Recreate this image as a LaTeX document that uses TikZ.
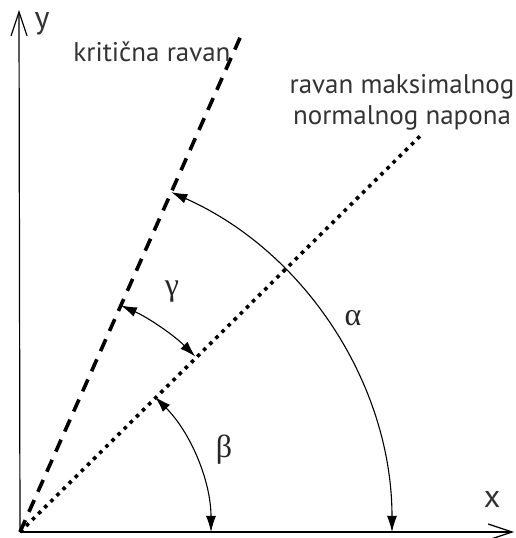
\documentclass[tikz,border=0pt]{standalone}
\usepackage{fontspec}
\setmainfont{PT Sans}
\newfontfamily\grk{Liberation Serif}
\usetikzlibrary{arrows.meta,calc}
\begin{document}
\begin{tikzpicture}[x=1pt,y=1pt,
  axis/.style={line width=1.2pt,-{Straight Barb[length=24pt,width=16pt,line width=1.2pt]}},
  crit/.style={line width=3.6pt,dash pattern=on 13pt off 9pt},
  maxn/.style={line width=3.6pt,dash pattern=on 3.6pt off 5pt},
  angarr/.style={line width=1.1pt,{Latex[length=16pt,width=10pt]}-{Latex[length=16pt,width=10pt]}},
  lbl/.style={font=\fontsize{27}{31}\selectfont,text=black!80,inner sep=0pt},
  greek/.style={font=\grk\fontsize{32}{34}\selectfont,text=black!85}]
\useasboundingbox (0,0) rectangle (515,538);
\coordinate (O) at (20,6);
\coordinate (Y) at (19,528);
\coordinate (X) at (514,6);
\draw[axis] (O) -- (Y);
\draw[axis] (O) -- (X);
\node[lbl,font=\fontsize{32}{34}\selectfont] (ylab) at (42,514) {y};
\node[lbl,font=\fontsize{32}{34}\selectfont] (xlab) at (492,38) {x};
\draw[crit] (O) -- ++(66:543) coordinate (Cend);
\draw[maxn] (O) -- ++(44.7:566) coordinate (Mend);
\node[lbl] (kr) at (152,486) {kritična ravan};
\node[lbl,align=center] (rm) at (402,436) {ravan maksimalnog\\normalnog napona};
\draw[angarr] ($(O)+(66:372)$) coordinate (a1) arc[start angle=66,end angle=0,radius=372] coordinate (a2);
\draw[angarr] ($(O)+(45:191)$) coordinate (b1) arc[start angle=45,end angle=0,radius=191] coordinate (b2);
\draw[angarr] ($(O)+(66:248)$) coordinate (g1) arc[start angle=66,end angle=45,radius=248] coordinate (g2);
\node[greek] (al) at (353,220) {α};
\node[greek] (be) at (224,88) {β};
\node[greek] (ga) at (172,246) {γ};
\end{tikzpicture}
\end{document}
